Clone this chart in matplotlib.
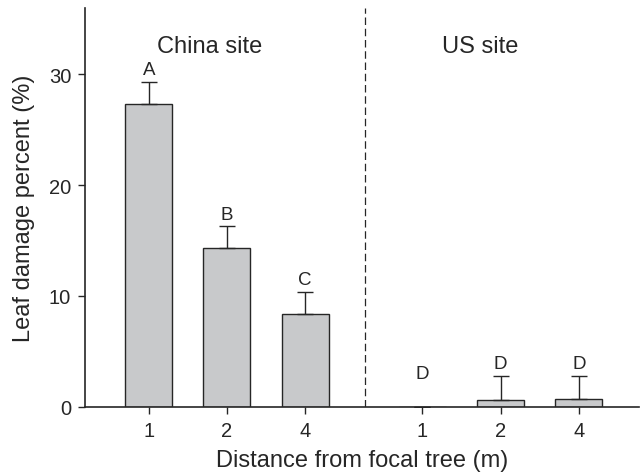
import matplotlib
matplotlib.use("Agg")
import matplotlib.pyplot as plt

plt.rcParams['font.family'] = ['Liberation Sans', 'DejaVu Sans']

sites = ["China site", "US site"]
tick_labels = ["1", "2", "4", "1", "2", "4"]
positions = [0, 1, 2, 3.5, 4.5, 5.5]
values = [27.35, 14.3, 8.35, 0.0, 0.62, 0.67]
errors = [2.0, 2.0, 2.05, 0.0, 2.13, 2.13]
letters = ["A", "B", "C", "D", "D", "D"]
letter_y = [29.65, 16.6, 10.75, 2.25, 3.1, 3.1]

fig = plt.figure(figsize=(6.4, 4.77), dpi=100)
ax = fig.add_axes([85/640, 1-407.7/477, (639-85)/640, (407.7-9)/477])

dark = '#262626'
ax.bar(positions, values, width=0.6, color='#c8c9cb', edgecolor=dark, linewidth=1.0, zorder=2)
ax.errorbar(positions, values, yerr=[[0]*len(errors), errors], fmt='none',
            ecolor=dark, elinewidth=1.0, capsize=6, capthick=1.0, zorder=3)
for x, y, t in zip(positions, letter_y, letters):
    ax.text(x, y, t, ha='center', va='bottom', fontsize=13.5, color=dark)

ax.axvline(2.77, color=dark, linestyle=(0, (6, 3)), linewidth=0.9)
ax.text(0.78, 32.6, sites[0], ha='center', va='center', fontsize=17, color=dark)
ax.text(4.24, 32.6, sites[1], ha='center', va='center', fontsize=17, color=dark)

ax.set_xlim(-0.815, 6.27)
ax.set_ylim(0, 36)
ax.set_yticks([0, 10, 20, 30])
ax.set_xticks(positions)
ax.set_xticklabels(tick_labels)
ax.tick_params(axis='both', direction='out', length=5, width=1.0, colors=dark,
               labelsize=14.5, pad=5)
ax.tick_params(axis='x', pad=5.5)
for s in ['top', 'right']:
    ax.spines[s].set_visible(False)
for s in ['left', 'bottom']:
    ax.spines[s].set_color(dark)
    ax.spines[s].set_linewidth(1.2)
ax.set_xlabel("Distance from focal tree (m)", fontsize=17, color=dark, labelpad=6)
ax.set_ylabel("Leaf damage percent (%)", fontsize=17, color=dark, labelpad=10)

fig.savefig("out.png", dpi=100)
